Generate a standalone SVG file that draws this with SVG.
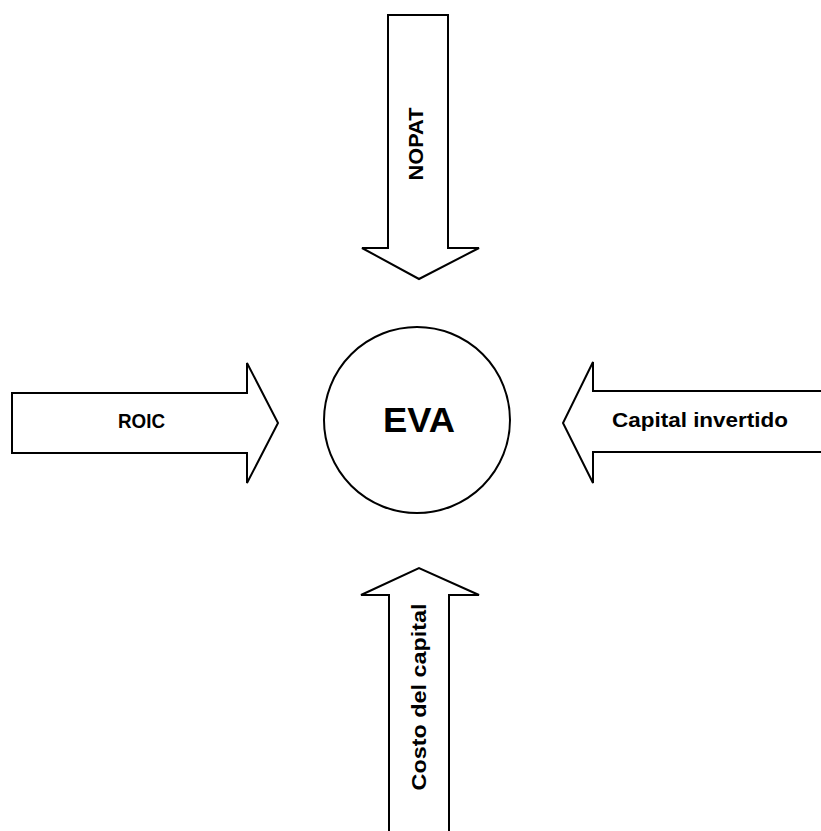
<svg xmlns="http://www.w3.org/2000/svg" width="821" height="831" viewBox="0 0 821 831">
  <style>
    .arrow { fill: #ffffff; stroke: #000000; stroke-width: 2; stroke-linejoin: miter; }
    .hub { fill: #ffffff; stroke: #000000; stroke-width: 2; }
    .lbl { font-family: "Liberation Sans", Arial, sans-serif; font-weight: bold; fill: #000000; }
  </style>
  <rect width="821" height="831" fill="#ffffff"/>

  <!-- inflow arrows pointing at the central value -->
  <g id="connectors">
    <g id="nopat">
      <polygon class="arrow" points="388,15 448,15 448,248 479,248 419,279 362,248 388,248"/>
      <text class="lbl" font-size="20" text-anchor="middle" transform="translate(423,144) rotate(-90)" textLength="73" lengthAdjust="spacingAndGlyphs">NOPAT</text>
    </g>
    <g id="roic">
      <polygon class="arrow" points="12,393 247,393 247,363 278,423 247,483 247,453 12,453"/>
      <text class="lbl" font-size="20" x="118" y="428" textLength="47" lengthAdjust="spacingAndGlyphs">ROIC</text>
    </g>
    <g id="capital-invertido">
      <polygon class="arrow" points="825,391 593,391 593,362 563,423 593,483 593,452 825,452"/>
      <text class="lbl" font-size="20" x="612" y="427" textLength="176" lengthAdjust="spacingAndGlyphs">Capital invertido</text>
    </g>
    <g id="costo-capital">
      <polygon class="arrow" points="389,835 389,595 361,595 419,568 479,595 449,595 449,835"/>
      <text class="lbl" font-size="20" text-anchor="middle" transform="translate(426,697) rotate(-90)" textLength="187" lengthAdjust="spacingAndGlyphs">Costo del capital</text>
    </g>
  </g>

  <g id="eva">
    <circle class="hub" cx="417" cy="420" r="93"/>
    <text class="lbl" font-size="35" x="383" y="432" textLength="72" lengthAdjust="spacingAndGlyphs">EVA</text>
  </g>
</svg>
